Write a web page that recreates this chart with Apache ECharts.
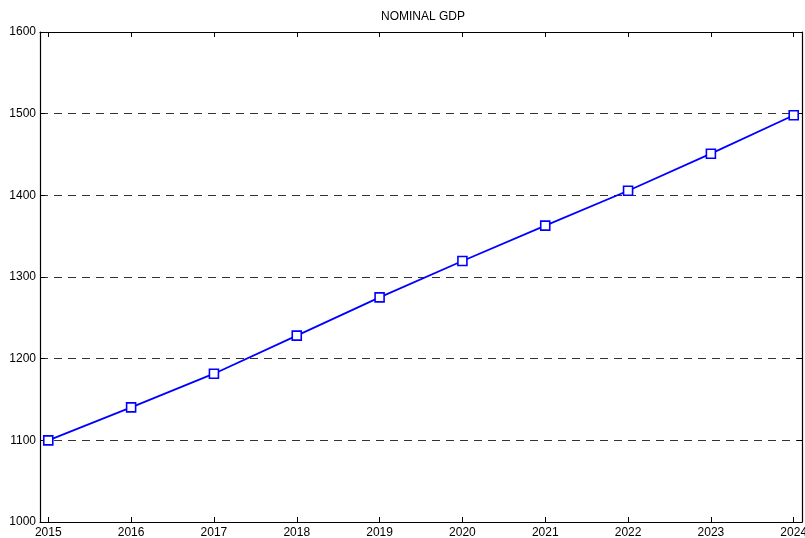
<!DOCTYPE html>
<html>
<head>
<meta charset="utf-8">
<script src="https://cdn.jsdelivr.net/npm/echarts@6/dist/echarts.min.js"></script>
<style>html,body{margin:0;padding:0;background:#fff;}#c{width:805px;height:538px;}</style>
</head>
<body>
<div id="c"></div>
<script>
const years = [2015, 2016, 2017, 2018, 2019, 2020, 2021, 2022, 2023, 2024];
const gdp = [1100, 1140.4, 1181.6, 1228.2, 1275.1, 1319.6, 1362.9, 1405.6, 1451, 1498];
const yTicks = [1000, 1100, 1200, 1300, 1400, 1500, 1600];
const titleText = 'NOMINAL GDP';

const font = 'Liberation Sans, Arial, Helvetica, sans-serif';
const chart = echarts.init(document.getElementById('c'), null, {renderer: 'canvas'});
const pts = years.map((y, i) => [y, gdp[i]]);
const axisLineStyle = {color: '#000', width: 1.2};
chart.setOption({
  animation: false,
  backgroundColor: '#fff',
  title: {
    text: titleText, left: 376, top: 6,
    textStyle: {fontFamily: font, fontSize: 12, fontWeight: 'normal', color: '#000'}
  },
  grid: {left: 40, right: 3, top: 32, bottom: 16, containLabel: false, outerBoundsMode: 'none'},
  xAxis: [{
    type: 'value', min: 2014.9, max: 2024.1, position: 'bottom',
    axisLine: {show: true, onZero: false, lineStyle: axisLineStyle},
    axisTick: {show: true, inside: true, length: 5, customValues: years, lineStyle: {color: '#000'}},
    axisLabel: {show: true, customValues: years, margin: 5, fontFamily: font, fontSize: 12, color: '#000', formatter: v => String(v), hideOverlap: false},
    splitLine: {show: false}
  }, {
    type: 'value', min: 2014.9, max: 2024.1, position: 'top',
    axisLine: {show: true, onZero: false, lineStyle: axisLineStyle},
    axisTick: {show: true, inside: true, length: 5, customValues: years, lineStyle: {color: '#000'}},
    axisLabel: {show: false},
    splitLine: {show: false}
  }],
  yAxis: [{
    type: 'value', min: 1000, max: 1600, interval: 100, position: 'left',
    axisLine: {show: true, onZero: false, lineStyle: axisLineStyle},
    axisTick: {show: true, inside: true, length: 5, lineStyle: {color: '#000'}},
    axisLabel: {show: true, customValues: yTicks, margin: 4, fontFamily: font, fontSize: 12, color: '#000', formatter: v => String(v)},
    splitLine: {show: true, lineStyle: {color: '#333', type: [8, 6], width: 1}}
  }, {
    type: 'value', min: 1000, max: 1600, interval: 100, position: 'right',
    axisLine: {show: true, onZero: false, lineStyle: axisLineStyle},
    axisTick: {show: true, inside: true, length: 5, lineStyle: {color: '#000'}},
    axisLabel: {show: false},
    splitLine: {show: false}
  }],
  series: [{
    type: 'line', xAxisIndex: 0, yAxisIndex: 0, data: pts,
    lineStyle: {color: '#0000ff', width: 1.8},
    symbol: 'rect', symbolSize: 9, showSymbol: true,
    itemStyle: {color: '#ffffff', borderColor: '#0000ff', borderWidth: 1.6},
    z: 5
  }]
});
</script>
</body>
</html>
